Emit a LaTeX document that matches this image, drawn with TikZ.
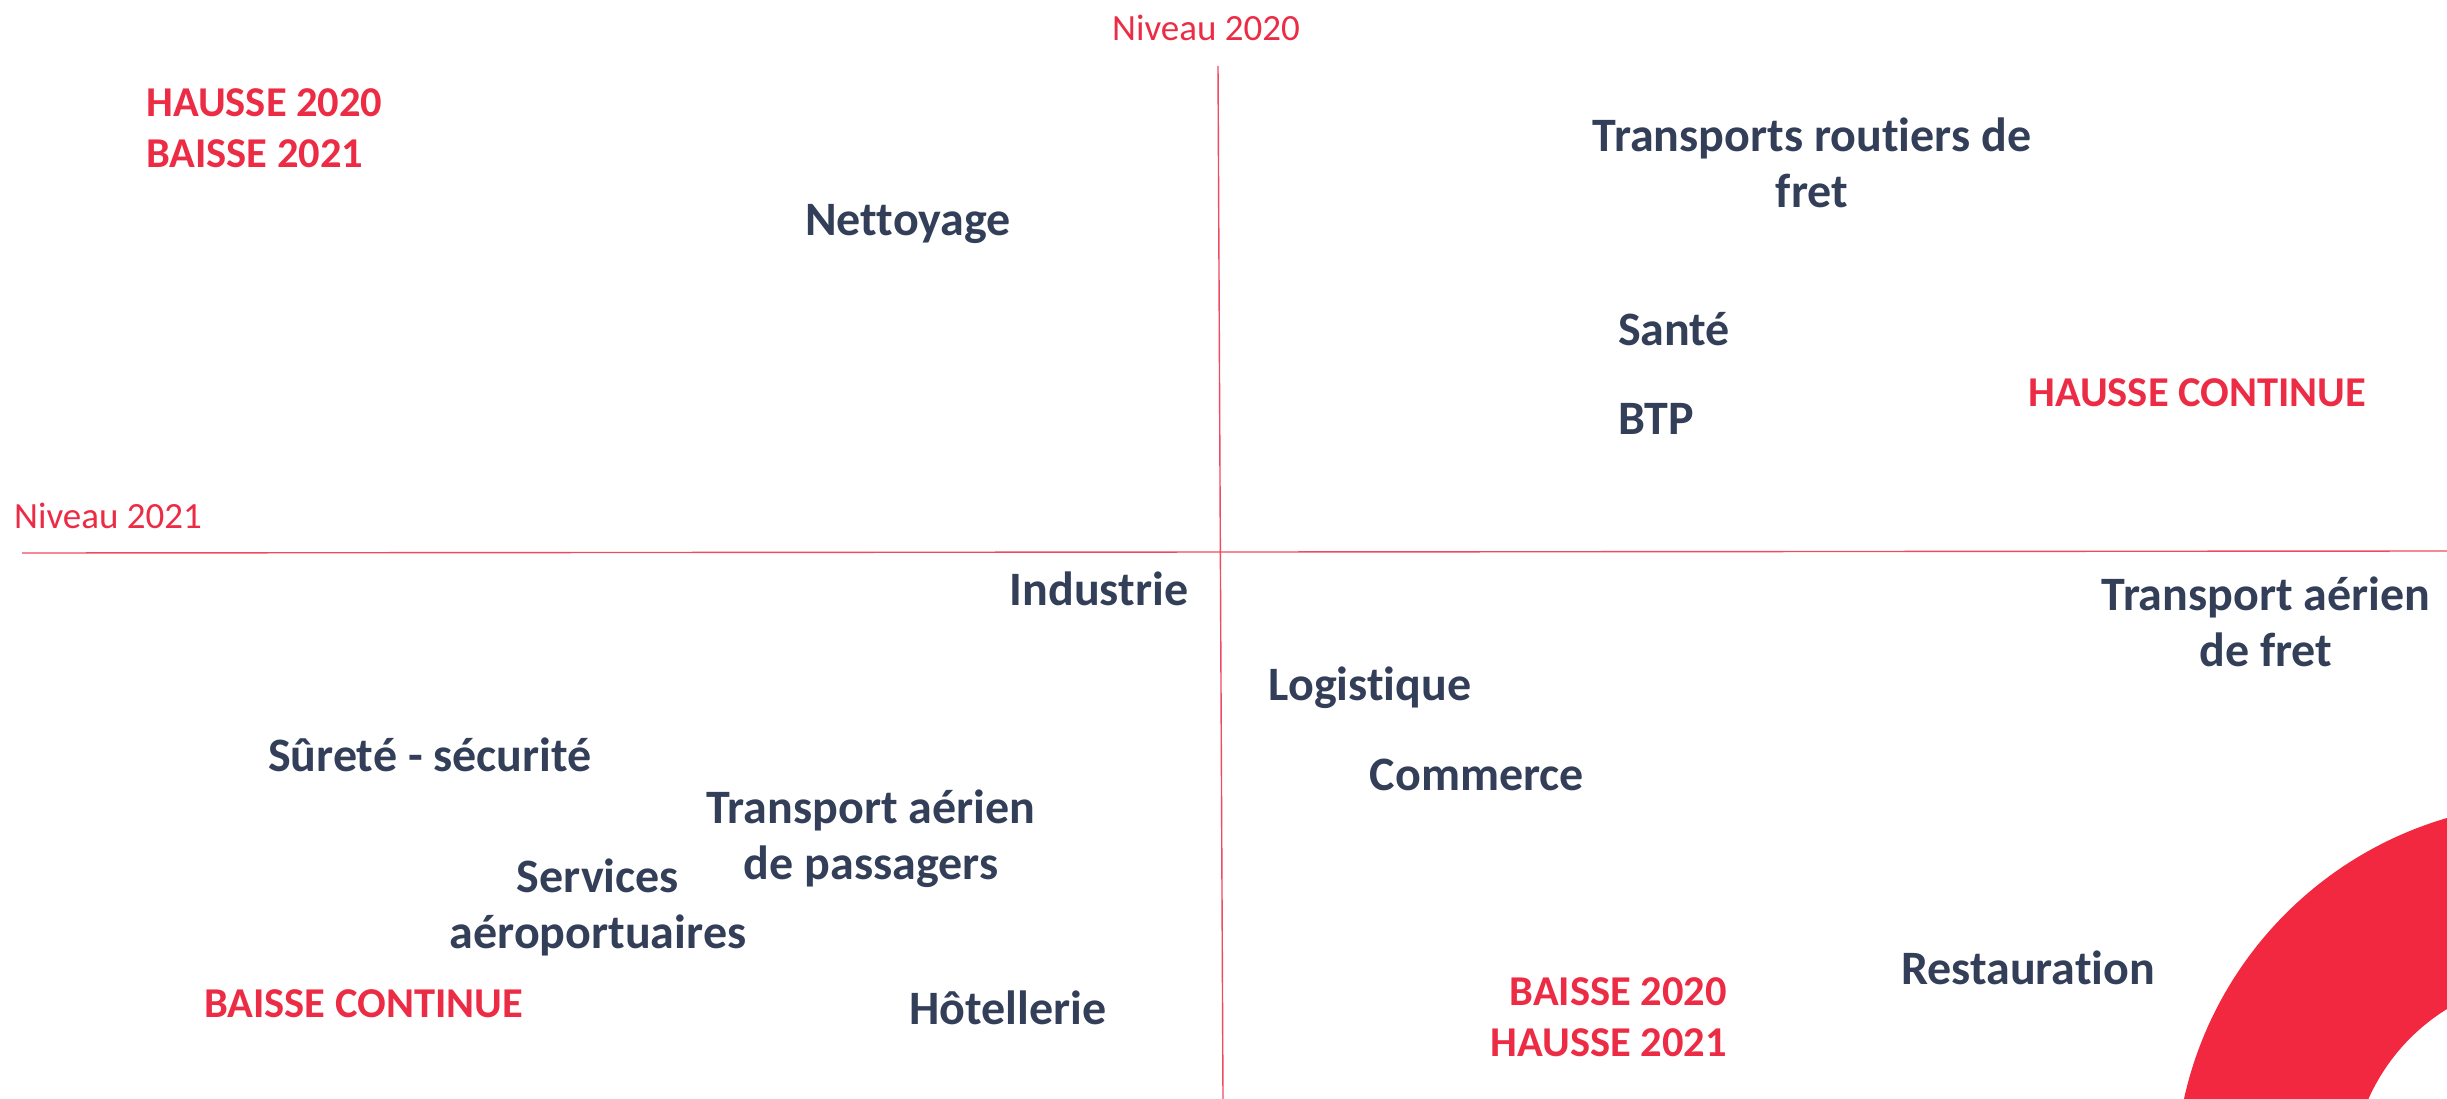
\documentclass[tikz,border=0pt]{standalone}
\usepackage{fontspec}
\setmainfont[RawFeature={-liga}]{Carlito}
\definecolor{accent}{HTML}{F22840}
\definecolor{labelred}{HTML}{EC2C45}
\definecolor{ink}{HTML}{333F58}
\definecolor{axisred}{HTML}{EE4B60}
\tikzset{
  sector/.style={font=\fontsize{48}{56}\selectfont\bfseries, text=ink, inner sep=0pt, align=center},
  trend/.style={font=\fontsize{42.5}{51.5}\selectfont\bfseries, text=labelred, inner sep=0pt},
  level/.style={font=\fontsize{37}{44}\selectfont, text=labelred, inner sep=0pt},
  axisline/.style={draw=axisred, line width=1.4pt}
}
\begin{document}
\begin{tikzpicture}[x=1pt,y=-1pt]
\useasboundingbox (0,0) rectangle (2447,1099);
% decorative ring
\begin{scope}
\clip (0,0) rectangle (2447,1099);
\fill[accent, even odd rule] (2552.7,1180.6) circle[radius=377.6] (2552.7,1180.6) circle[radius=201.5];
\end{scope}
% axes
\node[level] (n20) at (1206,28) {Niveau 2020};
\node[level] (n21) at (108,516) {Niveau 2021};
\coordinate (vtop) at (1218,66);
\coordinate (vbot) at (1223,1099);
\coordinate (hleft) at (22,553);
\coordinate (hright) at (2447,551);
\draw[axisline] (vtop) -- (vbot);
\draw[axisline] (hleft) -- (hright);
% trends
\node[trend,align=left,anchor=west] (t1) at (146,128) {HAUSSE 2020\\BAISSE 2021};
\node[trend,anchor=west] (t2) at (2028,393) {HAUSSE CONTINUE};
\node[trend,anchor=west] (t3) at (204,1004) {BAISSE CONTINUE};
\node[trend,align=right,anchor=east] (t4) at (1727,1017) {BAISSE 2020\\HAUSSE 2021};
% sectors
\node[sector] (a) at (908,224) {Nettoyage};
\node[sector] (b) at (1812,163) {Transports routiers de\\fret};
\node[sector] (c) at (1674,329) {Santé};
\node[sector] (d) at (1656,419) {BTP};
\node[sector] (e) at (1099,589) {Industrie};
\node[sector] (f) at (2266,622) {Transport aérien\\de fret};
\node[sector] (g) at (1370,688) {Logistique};
\node[sector] (h) at (1477,775) {Commerce};
\node[sector] (i) at (430,755) {Sûreté - sécurité};
\node[sector] (j) at (871,839) {Transport aérien\\de passagers};
\node[sector] (k) at (598,907) {Services\\aéroportuaires};
\node[sector] (l) at (1008,1008) {Hôtellerie};
\node[sector] (m) at (2028,968) {Restauration};
\end{tikzpicture}
\end{document}
